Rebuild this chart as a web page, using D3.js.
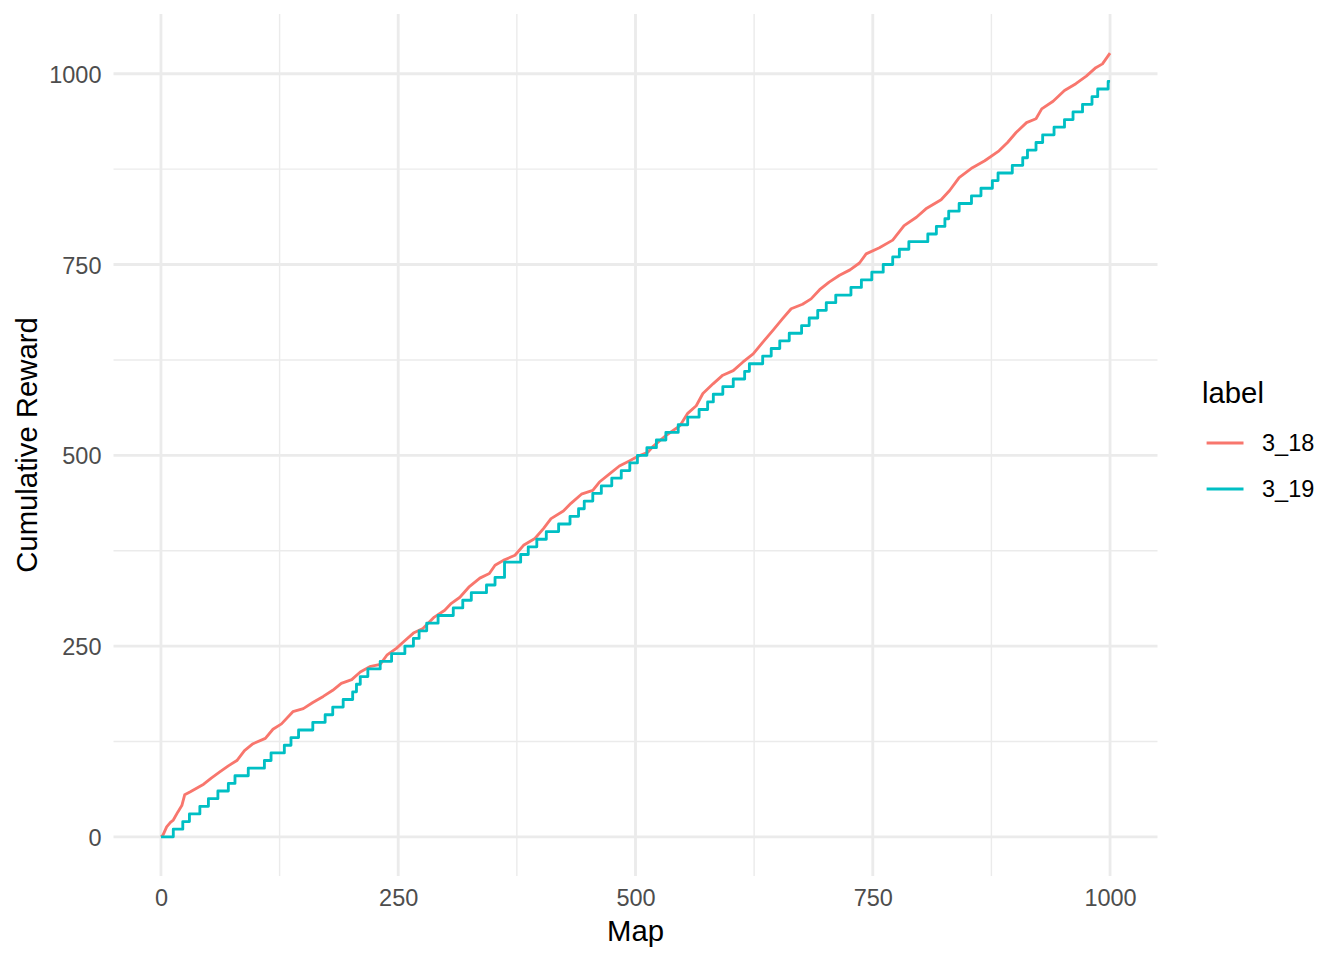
<!DOCTYPE html>
<html>
<head>
<meta charset="utf-8">
<script src="https://cdn.jsdelivr.net/npm/d3@7"></script>
<style>
body { margin: 0; background: #fff; }
text { font-family: "Liberation Sans", Arial, Helvetica, sans-serif; }
</style>
</head>
<body>
<script>
// Cumulative reward per map
var labels = ["3_18", "3_19"];
var colors = ["#F8766D", "#00BFC4"];

// 3_18 : a smooth-ish cumulative curve
var map_318 = [0, 2, 6, 10, 13, 18, 22, 25, 31, 38, 45, 53, 62, 71, 80, 88, 97, 110, 118, 127,
	139, 150, 160, 171, 181, 190, 201, 210, 220, 231, 238, 248, 256, 266, 276, 288, 299, 306, 315, 325,
	336, 346, 352, 362, 373, 382, 394, 403, 411, 424, 432, 443, 455, 462, 473, 483, 494, 503, 513, 518,
	532, 547, 555, 564, 571, 582, 592, 603, 613, 624, 634, 645, 655, 664, 676, 685, 694, 704, 715, 726,
	736, 743, 757, 771, 783, 796, 806, 822, 831, 841, 855, 868, 883, 892, 901, 912, 922, 928, 940, 952,
	964, 975, 985, 992, 1000];
var reward_318 = [0, 2, 13, 19, 22, 33, 41, 55, 59, 64, 69, 77, 85, 93, 100, 113, 122, 129, 141, 148,
	164, 168, 176, 184, 192, 201, 206, 216, 223, 226, 238, 247, 256, 267, 273, 288, 297, 306, 314, 328,
	339, 345, 356, 363, 369, 382, 391, 404, 417, 427, 437, 449, 454, 465, 476, 486, 493, 499, 504, 511,
	526, 539, 555, 565, 581, 594, 605, 611, 622, 633, 648, 664, 679, 692, 698, 705, 717, 727, 736, 743,
	752, 764, 772, 782, 801, 812, 823, 835, 847, 864, 877, 886, 899, 910, 923, 936, 941, 954, 964, 978,
	987, 997, 1008, 1013, 1027];

// 3_19 : a step function, the map where each step starts and the new total
var map_319 = [0, 13, 23, 30, 41, 50, 60, 71, 78, 92, 109, 116, 130, 137, 145, 160, 173, 181, 192, 202,
	206, 210, 218, 231, 243, 257, 266, 272, 280, 292, 308, 318, 327, 343, 352, 362, 379, 387, 396, 406,
	419, 431, 440, 446, 455, 464, 475, 485, 494, 502, 512, 522, 532, 545, 555, 567, 576, 582, 592, 603,
	615, 620, 634, 643, 652, 662, 675, 683, 692, 701, 711, 727, 738, 749, 761, 771, 778, 788, 808, 817,
	826, 830, 841, 854, 864, 876, 882, 897, 908, 913, 922, 929, 941, 952, 961, 971, 981, 987, 998, 1000];
var reward_319 = [0, 10, 20, 30, 40, 50, 60, 70, 80, 90, 100, 110, 120, 130, 140, 150, 160, 170, 180, 190,
	200, 210, 220, 230, 240, 250, 260, 270, 280, 290, 300, 310, 320, 330, 340, 360, 370, 380, 390, 400,
	410, 420, 430, 440, 450, 460, 470, 480, 490, 500, 510, 520, 530, 540, 550, 560, 570, 580, 590, 600,
	610, 620, 630, 640, 650, 660, 670, 680, 690, 700, 710, 720, 730, 740, 750, 760, 770, 780, 790, 800,
	810, 820, 830, 840, 850, 860, 870, 880, 890, 900, 910, 920, 930, 940, 950, 960, 970, 980, 990, 990];

var x_ticks = [0, 250, 500, 750, 1000];
var y_ticks = [0, 250, 500, 750, 1000];
var x_minor = [125, 375, 625, 875];
var y_minor = [125, 375, 625, 875];

// Build series from the arrays
function zip_series(xs, ys) {
	var out = [];
	for (var i = 0; i < xs.length; i++) {
		out.push({ map: xs[i], reward: ys[i] });
	}
	return out;
}
var series = [
	{ label: labels[0], color: colors[0], curve: d3.curveLinear, values: zip_series(map_318, reward_318) },
	{ label: labels[1], color: colors[1], curve: d3.curveStepAfter, values: zip_series(map_319, reward_319) }
];

// Layout
var width = 1344;
var height = 960;
var panel = { left: 113.5, right: 1157.5, top: 14, bottom: 876 };

// ggplot style 5% expansion of the data range
var all_x = map_318.concat(map_319);
var all_y = reward_318.concat(reward_319);
var x_min = d3.min(all_x), x_max = d3.max(all_x);
var y_min = d3.min(all_y), y_max = d3.max(all_y);
var x_pad = (x_max - x_min) * 0.05;
var y_pad = (y_max - y_min) * 0.05;

var x = d3.scaleLinear().domain([x_min - x_pad, x_max + x_pad]).range([panel.left, panel.right]);
var y = d3.scaleLinear().domain([y_min - y_pad, y_max + y_pad]).range([panel.bottom, panel.top]);

var svg = d3.select("body").append("svg")
	.attr("width", width)
	.attr("height", height);

// Grid lines
var grid = svg.append("g").attr("stroke", "#EBEBEB").attr("fill", "none");
grid.selectAll(".xminor").data(x_minor).enter().append("line")
	.attr("x1", function (d) { return x(d); }).attr("x2", function (d) { return x(d); })
	.attr("y1", panel.top).attr("y2", panel.bottom)
	.attr("stroke-width", 1.42);
grid.selectAll(".yminor").data(y_minor).enter().append("line")
	.attr("y1", function (d) { return y(d); }).attr("y2", function (d) { return y(d); })
	.attr("x1", panel.left).attr("x2", panel.right)
	.attr("stroke-width", 1.42);
grid.selectAll(".xmajor").data(x_ticks).enter().append("line")
	.attr("x1", function (d) { return x(d); }).attr("x2", function (d) { return x(d); })
	.attr("y1", panel.top).attr("y2", panel.bottom)
	.attr("stroke-width", 2.84);
grid.selectAll(".ymajor").data(y_ticks).enter().append("line")
	.attr("y1", function (d) { return y(d); }).attr("y2", function (d) { return y(d); })
	.attr("x1", panel.left).attr("x2", panel.right)
	.attr("stroke-width", 2.84);

// Axes (labels only, theme_minimal has no axis lines)
var x_axis = svg.append("g")
	.attr("transform", "translate(0," + (panel.bottom + 6) + ")")
	.call(d3.axisBottom(x).tickValues(x_ticks).tickSize(0).tickPadding(0).tickFormat(d3.format("d")));
var y_axis = svg.append("g")
	.attr("transform", "translate(" + (panel.left - 12) + ",0)")
	.call(d3.axisLeft(y).tickValues(y_ticks).tickSize(0).tickPadding(0).tickFormat(d3.format("d")));
x_axis.select(".domain").remove();
y_axis.select(".domain").remove();
x_axis.selectAll("text")
	.attr("dy", null).attr("y", 24)
	.attr("font-size", "23.5px").attr("fill", "#4D4D4D");
y_axis.selectAll("text")
	.attr("dy", "0.36em")
	.attr("font-size", "23.5px").attr("fill", "#4D4D4D");

// Axis titles
svg.append("text")
	.attr("x", (panel.left + panel.right) / 2).attr("y", 941)
	.attr("text-anchor", "middle")
	.attr("font-size", "29.3px").attr("fill", "#000")
	.text("Map");
svg.append("text")
	.attr("transform", "translate(37," + ((panel.top + panel.bottom) / 2) + ") rotate(-90)")
	.attr("text-anchor", "middle")
	.attr("font-size", "29.3px").attr("fill", "#000")
	.text("Cumulative Reward");

// Lines
var clip = svg.append("g");
series.forEach(function (s) {
	var line = d3.line()
		.x(function (d) { return x(d.map); })
		.y(function (d) { return y(d.reward); })
		.curve(s.curve);
	clip.append("path")
		.datum(s.values)
		.attr("fill", "none")
		.attr("stroke", s.color)
		.attr("stroke-width", 2.84)
		.attr("stroke-linejoin", "round")
		.attr("d", line);
});

// Legend
var legend = svg.append("g").attr("transform", "translate(1202,0)");
legend.append("text")
	.attr("x", 0).attr("y", 403)
	.attr("font-size", "29.3px").attr("fill", "#000")
	.text("label");
var key = legend.selectAll(".key").data(series).enter().append("g")
	.attr("transform", function (d, i) { return "translate(0," + (443 + i * 46) + ")"; });
key.append("line")
	.attr("x1", 4.6).attr("x2", 41.5)
	.attr("y1", 0).attr("y2", 0)
	.attr("stroke", function (d) { return d.color; })
	.attr("stroke-width", 2.84);
key.append("text")
	.attr("x", 60).attr("y", 0).attr("dy", "0.36em")
	.attr("font-size", "23.5px").attr("fill", "#000")
	.text(function (d) { return d.label; });
</script>
</body>
</html>
